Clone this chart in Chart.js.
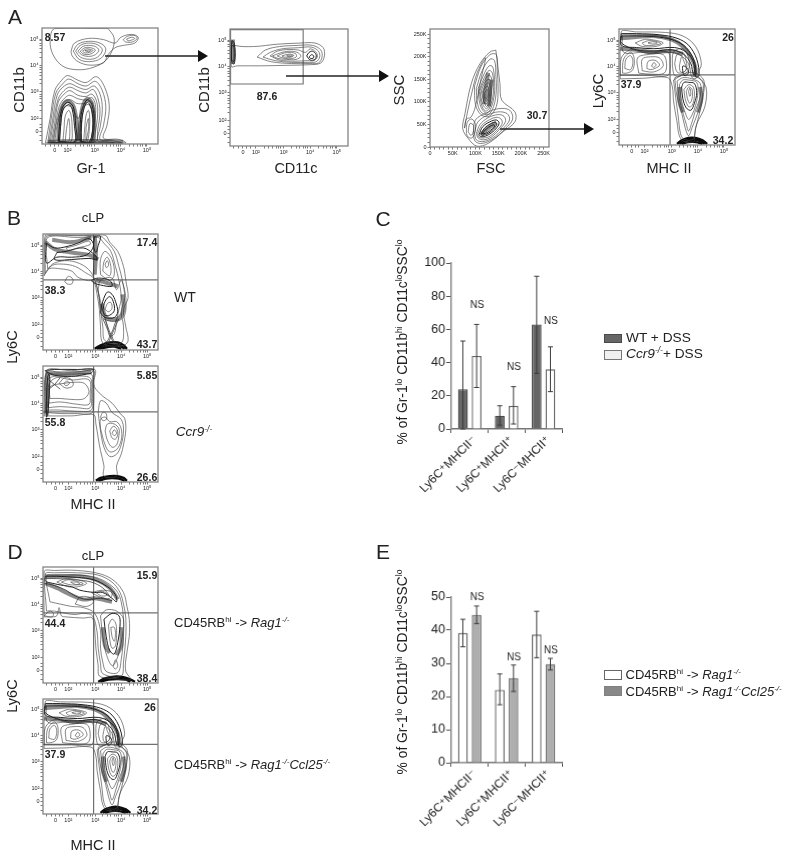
<!DOCTYPE html>
<html>
<head>
<meta charset="utf-8">
<title>Flow cytometry panels</title>
<script src="https://cdn.jsdelivr.net/npm/chart.js@4"></script>
<style>
  html, body { margin: 0; padding: 0; background: #fff; }
  #page { position: relative; width: 800px; height: 856px; overflow: hidden; font-family: "Liberation Sans", Arial, sans-serif; color: #222; }
  canvas { position: absolute; }
  canvas.flow { filter: blur(0.4px); }
  .t { position: absolute; white-space: nowrap; line-height: 1; }
  .t sup { font-size: 0.62em; vertical-align: 0.55em; line-height: 0; }
  .sw { position: absolute; box-sizing: border-box; }
  svg { position: absolute; left: 0; top: 0; }
</style>
</head>
<body>
<div id="page"></div>
<script>
// axis ticks, biexponential axes are given in channels 0-100
const logMajor = [11, 22, 45.5, 68, 90.5];
const logLabels = ['0', '10²', '10³', '10⁴', '10⁵'];
const logMinor = [3, 7, 14, 17, 29, 33, 36, 39, 41, 43, 52, 56, 59, 62, 64, 66, 75, 79, 82, 85, 87, 89];
const scatterMajor = [0, 50, 100, 150, 200, 250];
const scatterLabels = ['0', '50K', '100K', '150K', '200K', '250K'];
const scatterMinor = [10, 20, 30, 40, 60, 70, 80, 90, 110, 120, 130, 140, 160, 170, 180, 190, 210, 220, 230, 240];

// gates
const quadX = 44;
const quadY = 60.5;
const a2Gate = [0.5, 99.5, 62, 99.5, 62, 53, 0.5, 53, 0.5, 99.5];

// A1 Gr-1 / CD11b
const a1Thin = [
  [57, 99.5, 62, 92, 61, 82, 55, 72, 44, 66, 31, 64, 18, 67, 9.5, 77, 7, 89, 11, 99.5],
  [25, 80, 28, 87, 40, 91, 53, 90, 63, 87, 68, 92, 77, 94.5, 83, 92, 80, 87, 70, 85, 63, 83, 57, 77, 53, 70, 41, 68, 31, 71, 26, 76],
  [27, 80, 31, 86, 40, 88.5, 50, 87, 55, 82, 51, 74, 41, 71, 32, 73],
  [29, 80, 33, 85, 40, 87, 48, 85.5, 52, 81, 48, 75, 41, 73, 33, 75],
  [31, 80, 35, 84, 40, 85, 46, 84, 49, 81, 46, 77, 40, 75.5, 34, 77],
  [33, 80, 37, 83, 42, 83, 46, 81, 43, 78, 38, 77, 35, 78],
  [35, 80, 38, 82, 42, 81.5, 44, 80.5, 41, 79, 37, 78.5],
  [37, 80.5, 40, 81, 42, 80.5, 40, 79.5],
  [70, 90, 74, 93, 80, 93.5, 82, 91, 78, 88, 72, 88],
  [73, 90.5, 77, 92, 80, 91, 77, 89.5, 74, 89],
  [3, 1, 7, 22, 11, 46, 17, 55, 22, 59, 31, 55, 38, 53, 47, 58, 54, 49, 58, 33, 56, 16, 53, 5, 66, 4, 72, 1],
  [5, 1, 8, 22, 12, 44, 18, 52, 23, 56, 31, 52, 38, 50, 46, 54, 52, 46, 55, 32, 53, 16, 50, 4, 60, 3, 68, 1],
  [6, 1, 9, 20, 13, 42, 18, 49, 24, 52, 31, 49, 38, 47, 45, 50, 50, 43, 52, 30, 50, 14, 48, 3, 56, 2, 62, 1],
  [7, 1, 10, 20, 14, 39, 19, 46, 24, 49, 31, 46, 38, 44, 44, 47, 48, 40, 50, 28, 48, 12, 46, 2],
  [8, 1, 11, 18, 14, 36, 19, 43, 24, 46, 31, 42, 38, 41, 43, 43, 47, 37, 48, 26, 46, 10, 44, 1],
  [9, 1, 12, 18, 15, 33, 20, 40, 24, 42, 31, 39, 38, 38, 43, 40, 46, 34, 46, 24, 44, 8, 43, 1],
  [10, 1, 12, 16, 16, 30, 20, 37, 25, 38, 30, 35, 37, 35, 42, 37, 45, 30, 45, 20, 43, 8, 42, 1],
  [11, 1, 13, 16, 17, 28, 21, 33, 26, 31, 31, 22, 35, 31, 40, 34, 44, 26, 44, 14, 41, 1],
  [18, 2, 19, 13, 20, 24, 23, 29, 25, 25, 26, 13, 25, 2],
  [20, 2, 21, 12, 23, 22, 24, 12, 23, 2],
  [36, 2, 37, 16, 38, 25, 40, 29, 41, 25, 41, 15, 39, 2],
  [38, 3, 38, 14, 40, 22, 40, 12]
];
const a1Thick = [
  [14, 2, 15, 15, 17, 30, 22, 36, 27, 32, 29, 16, 29, 2],
  [15, 2, 16, 15, 18, 29, 23, 34, 26, 30, 28, 15, 28, 2],
  [33, 2, 33, 18, 35, 31, 39, 38, 43, 34, 45, 18, 42, 2],
  [34, 2, 34, 18, 36, 30, 39, 36, 42, 32, 44, 18, 41, 2]
];
const a1Band = [
  [14, 3, 15, 18, 17, 31, 22, 37, 27, 33, 30, 18, 31, 3],
  [32, 3, 33, 18, 35, 32, 39, 39, 43, 35, 45, 18, 44, 3],
  [5, 2, 30, 2.5, 55, 2.5, 70, 2]
];

// A2 CD11c / CD11b
const a2Thin = [
  [1, 90, 4, 86, 20, 85, 40, 87, 60, 88, 72, 88, 79, 84, 80, 77, 77, 71, 68, 69.5, 50, 69, 25, 68.5, 6, 68.5, 1, 68],
  [23, 76, 30, 82, 42, 85, 58, 86, 70, 86, 77, 82, 78, 76, 75, 71, 68, 70.5, 52, 70.5, 35, 72],
  [28, 76, 34, 80, 44, 83, 58, 84, 69, 84.5, 75, 81, 76, 76, 73, 72, 67, 71.5, 52, 71.5, 38, 73],
  [34, 77, 40, 81, 50, 82.5, 58, 82, 64, 80, 68, 83, 73, 80, 74, 76, 71, 73, 66, 73, 55, 72.5, 42, 73.5],
  [36, 77, 44, 80, 52, 81, 58, 79.5, 60, 76.5, 56, 74, 48, 74, 40, 75],
  [40, 77, 46, 79.5, 52, 80, 56, 78.5, 56, 76, 50, 74.5, 44, 75.5],
  [44, 77, 50, 78.5, 54, 77.5, 52, 76, 46, 76],
  [48, 77, 51, 77.7, 53, 77, 50, 76.3]
];
const a2Thick = [
  [65, 77, 67, 80, 70, 81, 73, 78, 72, 74, 68, 73.5],
  [67, 76, 69, 78, 71, 77, 70.5, 75, 68, 75],
  [1.5, 72, 1, 82, 2, 90, 3.5, 88, 4.5, 80, 4, 72, 3, 70],
  [1, 74, 1.5, 85, 3, 86, 3.5, 78, 3, 72]
];
const a2Band = [
  [2.5, 70, 2.5, 80, 2.5, 91]
];

// A3 FSC / SSC, in thousands
const a3Thin = [
  [145, 215, 154, 141, 158, 104, 187, 78, 187, 56, 161, 34, 128, 8, 103, 2, 84, 19, 72, 41, 77, 74, 91, 141, 110, 185, 132, 211],
  [98, 135, 112, 178, 132, 205, 146, 205, 148, 170, 150, 130, 146, 90, 130, 68, 112, 72, 100, 95],
  [102, 130, 115, 170, 132, 195, 142, 192, 145, 160, 146, 125, 140, 90, 128, 72, 112, 78, 104, 100],
  [106, 130, 118, 160, 130, 180, 138, 178, 142, 150, 142, 120, 135, 88, 125, 75, 114, 85, 108, 105],
  [108, 125, 120, 155, 130, 170, 137, 165, 140, 140, 138, 110, 130, 85, 122, 80, 114, 92],
  [110, 125, 120, 148, 130, 160, 136, 150, 136, 125, 132, 98, 125, 85, 116, 95],
  [113, 125, 122, 145, 131, 150, 134, 135, 132, 105, 125, 90, 118, 102],
  [116, 125, 124, 140, 130, 142, 132, 125, 128, 100, 122, 95, 117, 110],
  [118, 125, 125, 135, 129, 132, 129, 115, 125, 102, 120, 108],
  [121, 122, 126, 128, 127, 115, 124, 107, 121, 112],
  [95, 28, 100, 60, 125, 76, 150, 85, 175, 82, 182, 62, 165, 40, 140, 18, 115, 8, 100, 12],
  [98, 30, 105, 55, 125, 70, 150, 78, 170, 74, 175, 60, 160, 40, 138, 20, 116, 12, 102, 16],
  [102, 30, 110, 50, 128, 65, 150, 72, 163, 68, 166, 56, 152, 38, 135, 22, 118, 16, 106, 20],
  [105, 30, 114, 48, 130, 60, 148, 66, 158, 60, 158, 50, 146, 36, 132, 24, 118, 20, 108, 22],
  [80, 30, 82, 55, 92, 62, 100, 50, 98, 30, 92, 20, 84, 22],
  [84, 34, 88, 52, 96, 48, 95, 32, 90, 26],
  [76, 42, 82, 75, 92, 120, 104, 165, 122, 198, 112, 150, 100, 90, 90, 66, 80, 62]
];
const a3Thick = [
  [108, 28, 116, 45, 132, 56, 146, 60, 152, 54, 148, 44, 136, 32, 122, 24, 112, 23],
  [112, 28, 120, 42, 134, 52, 144, 55, 147, 50, 140, 40, 128, 30, 116, 26],
  [115, 30, 124, 40, 134, 47, 141, 49, 142, 45, 133, 37, 122, 30]
];
const a3Band = [
  [112, 27, 128, 42, 146, 54],
  [120, 95, 122, 125, 128, 165],
  [130, 90, 132, 125, 135, 150]
];

// A4 and D2 MHC II / Ly6C (same sample)
const a4Thin = [
  [1, 57, 20, 57.5, 42, 58, 46, 50, 47, 38, 50, 20, 52, 8, 56, 3, 65, 3, 65, 7, 67, 18, 74, 33, 75, 50, 68, 60, 71, 70, 66, 85, 55, 94, 40, 97, 15, 97.5, 2, 98],
  [47, 56, 49, 40, 51, 25, 53, 10, 56, 5, 64, 5, 66, 14, 70, 30, 73, 45, 73, 56, 66, 62, 58, 62],
  [3, 95, 20, 95, 40, 93, 52, 88, 60, 80, 66, 66, 67, 58, 63, 58, 60, 70, 52, 78, 42, 80, 20, 80, 4, 80],
  [14, 88, 22, 91, 30, 90.5, 38, 88, 32, 85, 20, 85],
  [20, 88, 26, 90, 33, 89, 36, 87.5, 30, 86, 22, 86],
  [25, 88, 29, 89, 33, 88, 29, 87],
  [1, 60, 2, 75, 10, 82, 25, 79, 42, 80, 44, 70, 42, 60, 25, 60, 12, 60],
  [3, 62, 4, 74, 10, 80, 13, 75, 12, 65, 7, 62],
  [5, 66, 6, 74, 10, 77, 12, 72, 10, 65],
  [17, 62, 16, 75, 25, 78, 38, 78, 41, 70, 39, 62, 28, 61],
  [20, 64, 20, 74, 27, 76, 35, 75, 38, 68, 30, 63],
  [24, 66, 25, 72, 31, 73, 35, 69, 31, 66, 27, 65],
  [28, 68, 30, 71, 32, 69, 30, 67],
  [46, 68, 47, 80, 55, 83, 60, 75, 60, 65, 54, 60, 48, 60],
  [48, 70, 50, 78, 55, 80, 58, 72, 58, 65, 54, 62, 50, 63],
  [52, 68, 54, 76, 56, 72, 58, 66, 56, 63, 53, 63],
  [48, 58, 50, 42, 54, 28, 57, 15, 60, 8, 63, 15, 68, 28, 72, 42, 72, 55, 65, 59, 55, 60],
  [50, 55, 52, 40, 55, 28, 58, 18, 60, 12, 63, 20, 66, 30, 70, 42, 70, 53, 63, 57, 55, 58],
  [52, 52, 54, 38, 57, 28, 60, 22, 63, 26, 66, 34, 68, 45, 67, 54, 60, 56, 55, 56],
  [56, 48, 57, 40, 60, 33, 63, 34, 65, 42, 64, 50, 60, 52],
  [58, 46, 59, 40, 61, 36, 63, 40, 63, 48, 60, 50],
  [60, 46, 61, 42, 62, 44, 61, 49]
];
const a4Thick = [
  [2, 96, 15, 96, 35, 95, 50, 92, 60, 86, 67, 74, 69, 60, 66, 59, 64, 72, 58, 80, 48, 84, 30, 83, 15, 84, 2, 86],
  [2, 94, 15, 94, 35, 93, 48, 90, 58, 84, 65, 72, 66, 61, 64, 61, 62, 70, 56, 78, 46, 82, 30, 81, 15, 82, 2, 88],
  [55, 63, 55, 68, 58, 67, 60, 63, 58, 60, 56, 60],
  [54, 50, 55, 40, 58, 32, 62, 30, 65, 36, 67, 45, 65, 53, 60, 54, 56, 54]
];
const a4Band = [
  [1, 92, 15, 93, 30, 94, 45, 91, 55, 85, 62, 76, 66, 66, 65, 59],
  [1, 83, 15, 82, 30, 80, 45, 81, 55, 78],
  [52, 50, 52, 38, 55, 28],
  [70, 50, 71, 40, 68, 28]
];
const a4Base = [
  [50, 1, 54, 4, 60, 6, 66, 6, 72, 4, 76, 1],
  [52, 1, 58, 4, 65, 4.5, 71, 3, 74, 1],
  [54, 1, 60, 2.5, 66, 2.5, 72, 1]
];

// B1 WT
const b1Thin = [
  [1, 64, 5, 70, 15, 70, 25, 68, 30, 63, 38, 60, 44, 59, 47, 48, 49, 35, 50, 20, 51, 8, 55, 4, 70, 4, 74, 8, 72, 20, 70, 35, 74, 45, 72, 60, 70, 72, 65, 85, 58, 93, 54, 99, 30, 99, 2, 99],
  [2, 66, 8, 73, 18, 74, 28, 72, 38, 66, 44, 62, 48, 50, 50, 35, 52, 20, 54, 8, 68, 6, 70, 20, 68, 33, 71, 45, 69, 60, 66, 72, 62, 85, 55, 94, 50, 98, 30, 98.5, 3, 98],
  [4, 70, 10, 75, 22, 77, 35, 73, 43, 65, 48, 50, 52, 34, 56, 20, 58, 12, 62, 14, 64, 25, 66, 35, 68, 45, 66, 60, 63, 72, 59, 85, 53, 92, 48, 97, 30, 97, 4, 97],
  [19, 59, 22, 63.5, 26, 61, 25, 57, 21, 57],
  [20, 88, 28, 90, 40, 94, 41, 91, 30, 88, 22, 86],
  [50, 65, 50, 78, 54, 85, 60, 78, 62, 65, 58, 60],
  [52, 68, 53, 76, 56, 80, 59, 72, 58, 64],
  [54, 74, 56, 77, 57, 73, 55, 71],
  [54, 35, 56, 40, 59, 41, 60, 36, 57, 33],
  [48, 52, 51, 30, 54, 26, 65, 25, 71, 30, 72, 45, 68, 60, 64, 52, 60, 62, 50, 60]
];
const b1Thick = [
  [3, 92, 10, 88, 20, 89, 30, 92, 40, 96, 44, 90, 38, 82, 25, 80, 12, 80, 3, 75],
  [12, 84, 20, 85, 35, 88, 45, 82, 47, 78, 40, 79, 25, 78, 10, 78],
  [45, 98, 44, 90, 46, 84, 48, 90, 50, 98],
  [42, 60, 48, 62, 58, 60, 60, 55, 50, 56, 44, 58],
  [50, 32, 52, 42, 56, 50, 60, 48, 63, 42, 65, 33, 62, 28, 54, 28],
  [52, 34, 54, 42, 58, 46, 61, 42, 62, 34, 58, 30, 54, 30]
];
const b1Band = [
  [2, 93, 10, 87, 25, 84, 40, 82, 48, 78],
  [8, 95, 25, 93, 42, 97],
  [45, 98, 46, 85, 45, 65],
  [46, 60, 55, 58, 65, 55],
  [51, 40, 55, 28, 65, 27, 70, 35, 69, 48]
];
const b1Open = [
  [52, 27, 56, 18, 58, 12, 54, 5, 52, 3],
  [66, 27, 62, 18, 60, 12, 64, 5, 68, 3],
  [54, 27, 57, 18, 59, 12, 56, 5],
  [64, 27, 61, 18, 59, 12, 62, 5]
];
const b1Base = [
  [45, 1, 50, 4, 58, 6.5, 65, 6.5, 70, 4, 73, 1],
  [47, 1, 53, 3.5, 60, 4.5, 66, 4, 71, 1],
  [49, 1, 56, 2.5, 62, 3, 68, 1]
];

// B2 Ccr9-/-
const b2Thin = [
  [1, 57, 25, 57, 44, 58, 46, 50, 48, 38, 50, 27, 53, 14, 53, 5, 64, 5, 64, 14, 68, 24, 70, 32, 72, 45, 71, 55, 68, 58, 60, 68, 52, 74, 46, 80, 44, 85, 45, 97, 25, 96, 3, 96],
  [2, 60, 15, 59, 30, 59, 42, 59, 44, 66, 44, 88, 44, 96, 30, 95, 12, 95, 3, 95],
  [3, 62, 15, 62, 30, 61, 42, 62, 43, 72, 43, 88, 42, 93, 25, 93, 10, 93, 3, 93],
  [4, 64, 15, 65, 30, 64, 41, 64, 42, 75, 42, 88, 38, 91, 24, 91, 10, 91, 4, 88],
  [5, 68, 15, 69, 30, 67, 40, 67, 41, 75, 40, 88, 25, 88, 12, 90, 5, 84],
  [6, 72, 15, 72, 28, 71, 36, 72, 40, 78, 36, 85, 28, 86, 18, 85, 6, 82],
  [14, 85, 19, 90, 25, 88, 26, 83, 20, 81],
  [18, 85, 21, 87, 23, 85, 20, 83],
  [48, 60, 50, 44, 53, 30, 58, 22, 64, 24, 68, 32, 70, 45, 68, 54, 60, 60, 55, 68, 50, 70],
  [50, 46, 54, 32, 58, 26, 64, 28, 68, 36, 68, 46, 64, 52, 58, 52, 54, 56, 50, 54],
  [54, 44, 56, 36, 60, 30, 64, 32, 66, 40, 66, 46, 62, 50, 56, 50],
  [58, 44, 60, 38, 63, 37, 65, 41, 64, 46, 61, 48],
  [60, 42, 62, 40, 64, 42, 62, 45],
  [50, 56, 52, 60, 55, 59, 55, 54, 52, 53]
];
const b2Thick = [
  [3, 95, 10, 92, 25, 91, 38, 93, 42, 94, 44, 97, 30, 97, 10, 97, 2, 96],
  [3, 56, 3, 70, 4, 90, 5, 93, 6, 88, 5, 70, 4, 57]
];
const b2Band = [
  [3, 94, 20, 93, 42, 95],
  [3, 58, 4, 75, 4, 92]
];
const b2Open = [
  [5, 88, 10, 84, 15, 80],
  [5, 80, 10, 84, 15, 90]
];
const b2Base = [
  [46, 1, 50, 3.5, 58, 5, 65, 5, 70, 3.5, 73, 1],
  [48, 1, 55, 3, 60, 3.5, 66, 3, 71, 1]
];

// D1 CD45RBhi -> Rag1-/-
const d1Thin = [
  [1, 57, 8, 57, 12, 58, 14, 65, 16, 58, 20, 57, 35, 56, 43, 56, 45, 45, 46, 30, 48, 15, 49, 6, 60, 4, 76, 3, 72, 10, 72, 20, 75, 40, 75, 55, 73, 66, 70, 78, 62, 88, 50, 94, 30, 97, 10, 97, 1, 96],
  [3, 62, 10, 62, 20, 60, 28, 59, 35, 60, 43, 58, 47, 44, 48, 30, 50, 17, 52, 8, 68, 6, 70, 18, 72, 40, 72, 56, 70, 68, 67, 78, 60, 87, 48, 93, 30, 95, 10, 95, 2, 94],
  [6, 70, 15, 68, 25, 66, 35, 65, 45, 60, 50, 45, 50, 30, 52, 18, 55, 10, 65, 9, 68, 20, 70, 40, 70, 56, 68, 70, 65, 78, 58, 85, 46, 91, 30, 93, 10, 93, 3, 92],
  [12, 87, 20, 90, 30, 89, 38, 86, 30, 83, 22, 83],
  [16, 87, 22, 89, 30, 87.5, 35, 85.5, 28, 84.5, 22, 85],
  [24, 87, 29, 87, 32, 85.5, 28, 85],
  [42, 78, 52, 80, 60, 78, 58, 73, 50, 74],
  [46, 78, 52, 79, 56, 76, 51, 75],
  [28, 68, 32, 74, 40, 74, 44, 70, 38, 66],
  [50, 58, 52, 40, 55, 25, 60, 15, 64, 20, 68, 35, 70, 55, 64, 62, 55, 63],
  [57, 50, 58, 38, 60, 30, 63, 32, 64, 45, 63, 52, 60, 55],
  [59, 48, 60, 40, 62, 36, 63, 42, 62, 48],
  [61, 14, 63, 20, 65, 15, 63, 12],
  [1, 58, 6, 62, 9, 60, 8, 57]
];
const d1Thick = [
  [2, 92, 12, 92, 30, 91, 44, 89, 56, 83, 63, 76, 64, 70, 60, 73, 52, 78, 45, 78, 32, 80, 25, 83, 18, 84, 8, 86, 2, 88],
  [53, 55, 55, 40, 58, 28, 62, 25, 65, 35, 67, 50, 66, 58, 60, 60]
];
const d1Band = [
  [2, 92, 15, 92, 32, 92, 46, 89, 58, 82, 65, 72],
  [2, 86, 12, 82, 22, 77, 35, 72, 45, 73, 60, 70],
  [52, 48, 54, 32, 58, 26],
  [68, 48, 68, 32, 64, 24]
];
const d1Open = [
  [2, 90, 12, 90, 28, 89, 42, 87, 52, 82, 58, 75],
  [1, 86, 10, 84, 20, 80, 28, 75, 38, 72, 50, 73, 60, 71]
];
const d1Base = [
  [48, 1, 54, 4, 62, 5.5, 70, 5, 76, 3, 80, 1],
  [50, 1, 57, 3, 64, 3.5, 72, 3, 76, 1]
];

// bar panels
const barCategories = ['Ly6C⁺MHCII⁻', 'Ly6C⁺MHCII⁺', 'Ly6C⁻MHCII⁺'];
const cWt = [24, 8, 63];
const cWtLow = [0, 2.3, 33.5];
const cWtHigh = [53, 14, 92];
const cKo = [44, 14, 36];
const cKoLow = [25, 3, 22.5];
const cKoHigh = [63, 25.5, 49.5];
const cNs = [74.5, 37.5, 65];
const eRag = [39.2, 22, 38.7];
const eRagLow = [35, 17.5, 31.7];
const eRagHigh = [43.3, 26.8, 45.7];
const eCcl = [44.6, 25.5, 29.8];
const eCclLow = [42, 21.5, 28];
const eCclHigh = [47.3, 29.5, 31.5];
const eNs = [50, 31.8, 34];

const page = document.getElementById('page');

function txt(html, x, y, size, opts) {
  opts = opts || {};
  const el = document.createElement('div');
  el.className = 't';
  el.innerHTML = html;
  el.style.left = x + 'px';
  el.style.top = y + 'px';
  el.style.fontSize = size + 'px';
  if (opts.bold) el.style.fontWeight = 'bold';
  el.style.zIndex = 3;
  const shift = opts.left ? 'translate(0,-50%)' : 'translate(-50%,-50%)';
  el.style.transform = shift + (opts.rot ? ' rotate(' + opts.rot + 'deg)' : '');
  page.appendChild(el);
}

function addCanvas(left, top, w, h, cls) {
  const c = document.createElement('canvas');
  c.width = w;
  c.height = h;
  c.style.left = left + 'px';
  c.style.top = top + 'px';
  c.style.width = w + 'px';
  c.style.height = h + 'px';
  if (cls) c.className = cls;
  page.appendChild(c);
  return c;
}

function pts(flat, close) {
  const out = [];
  for (let i = 0; i < flat.length; i += 2) out.push({ x: flat[i], y: flat[i + 1] });
  if (close) out.push({ x: flat[0], y: flat[1] });
  return out;
}

function lineSet(data, color, width, tension) {
  return { data: data, showLine: true, pointRadius: 0, borderColor: color, borderWidth: width, tension: tension, fill: false };
}

const framePlugin = {
  id: 'frame',
  afterDraw(chart) {
    const a = chart.chartArea, ctx = chart.ctx;
    ctx.save();
    ctx.strokeStyle = '#858585';
    ctx.lineWidth = 1.3;
    ctx.strokeRect(a.left, a.top, a.right - a.left, a.bottom - a.top);
    ctx.restore();
  }
};

// keep the plot box in a known place inside the canvas
const AX_L = 27, AX_B = 17, PAD = 5;

function flowAxis(max, major, labels, minor, fixed) {
  return {
    type: 'linear', min: 0, max: max,
    afterBuildTicks: axis => { axis.ticks = major.concat(minor).map(v => ({ value: v })); },
    afterFit: axis => { if (fixed.w) axis.width = fixed.w; if (fixed.h) axis.height = fixed.h; },
    border: { display: false },
    grid: { drawOnChartArea: false, drawTicks: true, tickLength: 2.5, color: '#444', lineWidth: 0.7 },
    ticks: {
      autoSkip: false, maxRotation: 0, minRotation: 0, padding: 1, color: '#222',
      font: { size: 5.5, family: '"Liberation Sans", "DejaVu Sans", sans-serif' },
      callback: v => { const i = major.indexOf(v); return i >= 0 ? labels[i] : ''; }
    }
  };
}

function flow(left, top, w, h, p) {
  const sets = [];
  // soft dark bands first, where the contours pile up
  (p.band || []).forEach(c => sets.push(lineSet(pts(c, false), 'rgba(25,25,25,0.5)', 4, 0.35)));
  (p.thin || []).forEach(c => sets.push(lineSet(pts(c, true), '#444', 0.65, 0.35)));
  (p.open || []).forEach(c => sets.push(lineSet(pts(c, false), '#333', 0.75, 0.35)));
  (p.thick || []).forEach(c => sets.push(lineSet(pts(c, true), '#222', 1, 0.35)));
  (p.base || []).forEach(c => sets.push(lineSet(pts(c, false), '#0c0c0c', 2.4, 0.35)));
  if (p.quad) {
    sets.push(lineSet([{ x: quadX, y: 0 }, { x: quadX, y: 100 }], '#707070', 1.2, 0));
    sets.push(lineSet([{ x: 0, y: quadY }, { x: 100, y: quadY }], '#707070', 1.2, 0));
  }
  if (p.gate) sets.push(lineSet(pts(p.gate, false), '#707070', 1.1, 0));
  const canvas = addCanvas(left - AX_L, top - PAD, w + AX_L + PAD, h + AX_B + PAD, 'flow');
  const lin = p.linear;
  new Chart(canvas, {
    type: 'scatter',
    data: { datasets: sets },
    options: {
      responsive: false, animation: false, events: [],
      layout: { padding: { top: PAD, right: PAD, left: 0, bottom: 0 } },
      plugins: { legend: { display: false }, tooltip: { enabled: false } },
      scales: {
        x: lin ? flowAxis(262, scatterMajor, scatterLabels, scatterMinor, { h: AX_B }) : flowAxis(100, logMajor, logLabels, logMinor, { h: AX_B }),
        y: lin ? flowAxis(262, scatterMajor, scatterLabels, scatterMinor, { w: AX_L }) : flowAxis(100, logMajor, logLabels, logMinor, { w: AX_L })
      }
    },
    plugins: [framePlugin]
  });
}

function barPanel(areaLeft, areaTop, areaW, areaH, cfg) {
  const B_L = 50, B_T = 14, B_R = 8, B_B = 78;
  const canvas = addCanvas(areaLeft - B_L, areaTop - B_T, areaW + B_L + B_R, areaH + B_T + B_B);
  const extras = {
    id: 'extras',
    afterDatasetsDraw(chart) {
      const ctx = chart.ctx, y = chart.scales.y;
      ctx.save();
      ctx.strokeStyle = '#3a3a3a';
      ctx.lineWidth = 1;
      chart.data.datasets.forEach((ds, d) => {
        chart.getDatasetMeta(d).data.forEach((bar, i) => {
          const lo = y.getPixelForValue(cfg.low[d][i]), hi = y.getPixelForValue(cfg.high[d][i]);
          ctx.beginPath();
          ctx.moveTo(bar.x, lo); ctx.lineTo(bar.x, hi);
          ctx.moveTo(bar.x - 2.5, hi); ctx.lineTo(bar.x + 2.5, hi);
          ctx.moveTo(bar.x - 2.5, lo); ctx.lineTo(bar.x + 2.5, lo);
          ctx.stroke();
        });
      });
      ctx.fillStyle = '#222';
      ctx.font = '10px "Liberation Sans", sans-serif';
      ctx.textAlign = 'center';
      ctx.textBaseline = 'middle';
      chart.getDatasetMeta(1).data.forEach((bar, i) => {
        ctx.fillText('NS', bar.x + 0.5, y.getPixelForValue(cfg.ns[i]));
      });
      ctx.restore();
    }
  };
  new Chart(canvas, {
    type: 'bar',
    data: {
      labels: barCategories,
      datasets: cfg.series.map((vals, i) => ({
        data: vals,
        backgroundColor: cfg.fill[i],
        borderColor: cfg.edge[i],
        borderWidth: 1.4,
        categoryPercentage: 0.744,
        barPercentage: 0.71
      }))
    },
    options: {
      responsive: false, animation: false, events: [],
      layout: { padding: { top: B_T, right: B_R, left: 0, bottom: 0 } },
      plugins: { legend: { display: false }, tooltip: { enabled: false } },
      scales: {
        x: {
          afterFit: axis => { axis.height = B_B; },
          border: { color: '#777', width: 1.5 },
          grid: { drawOnChartArea: false, drawTicks: true, tickLength: 4, color: '#555' },
          ticks: {
            autoSkip: false, minRotation: 45, maxRotation: 45, padding: 0, labelOffset: 5, color: '#222',
            font: { size: 12, family: '"Liberation Sans", "DejaVu Sans", sans-serif' }
          }
        },
        y: {
          min: 0, max: cfg.max,
          afterFit: axis => { axis.width = B_L; },
          border: { color: '#888', width: 1.5 },
          grid: { drawOnChartArea: false, drawTicks: true, tickLength: 5, color: '#555' },
          ticks: {
            stepSize: cfg.step, padding: 1, color: '#222',
            font: { size: 12.5, family: '"Liberation Sans", sans-serif' }
          }
        }
      }
    },
    plugins: [extras]
  });
}

// flow plots
flow(42, 28, 116, 116, { thin: a1Thin, thick: a1Thick, band: a1Band });
flow(229.5, 29, 118.5, 117, { thin: a2Thin, thick: a2Thick, band: a2Band, gate: a2Gate });
flow(430, 29, 119, 118, { thin: a3Thin, thick: a3Thick, band: a3Band, linear: true });
flow(619, 29, 116, 116, { thin: a4Thin, thick: a4Thick, band: a4Band, base: a4Base, quad: true });
flow(43, 234, 115, 116, { thin: b1Thin, thick: b1Thick, band: b1Band, open: b1Open, base: b1Base, quad: true });
flow(43, 366, 115, 116, { thin: b2Thin, thick: b2Thick, band: b2Band, open: b2Open, base: b2Base, quad: true });
flow(43, 567, 115, 116, { thin: d1Thin, thick: d1Thick, band: d1Band, open: d1Open, base: d1Base, quad: true });
flow(43, 699, 115, 115, { thin: a4Thin, thick: a4Thick, band: a4Band, base: a4Base, quad: true });

// bar plots
barPanel(451, 262.5, 110.5, 166.5, {
  series: [cWt, cKo], low: [cWtLow, cKoLow], high: [cWtHigh, cKoHigh], ns: cNs,
  fill: ['#666666', '#ffffff'], edge: ['#4a4a4a', '#666666'], max: 100, step: 20
});
barPanel(451.3, 597, 110.5, 165.7, {
  series: [eRag, eCcl], low: [eRagLow, eCclLow], high: [eRagHigh, eCclHigh], ns: eNs,
  fill: ['#ffffff', '#aeaeae'], edge: ['#666666', '#777777'], max: 50, step: 10
});

// panel letters
txt('A', 15, 16, 21);
txt('B', 14, 217, 21);
txt('C', 383, 218, 21);
txt('D', 15, 551, 21);
txt('E', 383, 551, 21);

// axis names
txt('CD11b', 18, 90, 15, { rot: -90 });
txt('Gr-1', 91, 168, 14.5);
txt('CD11b', 203, 90, 15, { rot: -90 });
txt('CD11c', 296, 168, 14.5);
txt('SSC', 398, 90, 15, { rot: -90 });
txt('FSC', 491, 168, 14.5);
txt('Ly6C', 597, 91, 15, { rot: -90 });
txt('MHC II', 669, 168, 14.5);
txt('cLP', 93, 217, 13);
txt('Ly6C', 12, 347, 14.5, { rot: -90 });
txt('MHC II', 93, 504, 14.5);
txt('cLP', 93, 555, 13);
txt('Ly6C', 12, 696, 14.5, { rot: -90 });
txt('MHC II', 93, 845, 14.5);

// gate percentages
[['8.57', 55, 37], ['87.6', 267, 96], ['30.7', 537, 115], ['26', 728, 37], ['37.9', 631, 84], ['34.2', 723, 140],
 ['17.4', 147, 242], ['38.3', 55, 290], ['43.7', 147, 344], ['5.85', 147, 375], ['55.8', 55, 422], ['26.6', 147, 477],
 ['15.9', 147, 575], ['44.4', 55, 623], ['38.4', 147, 678], ['26', 150, 707], ['37.9', 55, 754], ['34.2', 147, 810]
].forEach(n => txt(n[0], n[1], n[2], 10.5, { bold: true }));

// sample names
txt('WT', 185, 297, 14);
txt('<i>Ccr9<sup>-/-</sup></i>', 194, 432, 13.5);
txt('CD45RB<sup>hi</sup> -&gt; <i>Rag1<sup>-/-</sup></i>', 174, 622, 13, { left: true });
txt('CD45RB<sup>hi</sup> -&gt; <i>Rag1<sup>-/-</sup>Ccl25<sup>-/-</sup></i>', 174, 764, 13, { left: true });

// bar axis titles
const yTitle = '% of Gr-1<sup>lo</sup> CD11b<sup>hi</sup> CD11c<sup>lo</sup>SSC<sup>lo</sup>';
txt(yTitle, 403, 342, 13.8, { rot: -90 });
txt(yTitle, 403, 672, 13.8, { rot: -90 });

// legends
function swatch(x, y, w, h, fill, edge) {
  const s = document.createElement('div');
  s.className = 'sw';
  s.style.cssText = 'left:' + x + 'px;top:' + y + 'px;width:' + w + 'px;height:' + h + 'px;background:' + fill + ';border:1px solid ' + edge;
  page.appendChild(s);
}
swatch(604, 333.5, 17.5, 9, '#666666', '#4a4a4a');
txt('WT + DSS', 626, 338, 13.7, { left: true });
swatch(604, 350, 17.5, 9.5, '#f0f0f0', '#777777');
txt('<i>Ccr9<sup>-/-</sup></i>+ DSS', 626, 354, 13.7, { left: true });
swatch(604, 670, 17.5, 10, '#ffffff', '#666666');
txt('CD45RB<sup>hi</sup> -&gt; <i>Rag1<sup>-/-</sup></i>', 625.5, 674, 13, { left: true });
swatch(604, 686, 17.5, 9.5, '#888888', '#808080');
txt('CD45RB<sup>hi</sup> -&gt; <i>Rag1<sup>-/-</sup>Ccl25<sup>-/-</sup></i>', 625.5, 691, 13, { left: true });

// gating arrows
const svgNS = 'http://www.w3.org/2000/svg';
const svg = document.createElementNS(svgNS, 'svg');
svg.setAttribute('width', 800);
svg.setAttribute('height', 856);
svg.style.zIndex = 2;
function arrow(x1, x2, y) {
  const l = document.createElementNS(svgNS, 'line');
  l.setAttribute('x1', x1); l.setAttribute('x2', x2 - 8);
  l.setAttribute('y1', y); l.setAttribute('y2', y);
  l.setAttribute('stroke', '#222'); l.setAttribute('stroke-width', 1.4);
  svg.appendChild(l);
  const h = document.createElementNS(svgNS, 'polygon');
  h.setAttribute('points', (x2 - 10) + ',' + (y - 6) + ' ' + x2 + ',' + y + ' ' + (x2 - 10) + ',' + (y + 6));
  h.setAttribute('fill', '#111');
  svg.appendChild(h);
}
arrow(105, 208, 56);
arrow(286, 389, 76);
arrow(500, 594, 129);
page.appendChild(svg);
</script>
</body>
</html>
